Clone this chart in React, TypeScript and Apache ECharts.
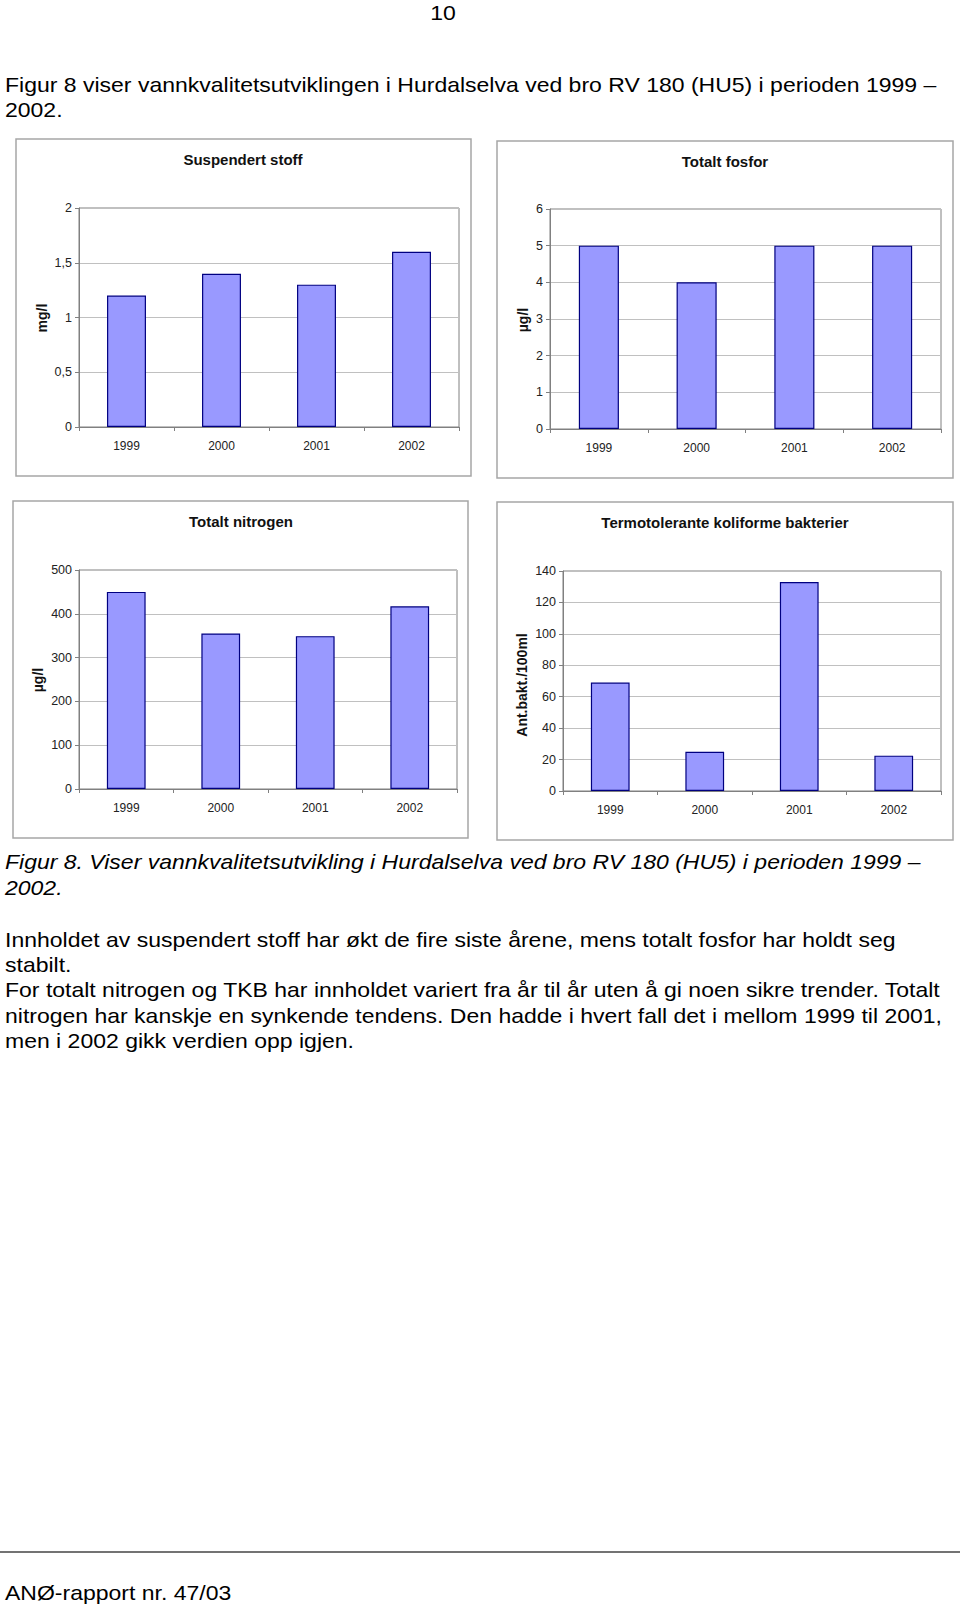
import React, { useEffect, useRef } from 'react';
import * as echarts from 'echarts';

// ---------- data ----------
const YEARS = ['1999', '2000', '2001', '2002'];
const SUSPENDERT_STOFF = [1.2, 1.4, 1.3, 1.6];
const TOTALT_FOSFOR = [5, 4, 5, 5];
const TOTALT_NITROGEN = [450, 355, 349, 417];
const TKB = [69, 25, 133, 22.5];

const CHART_TITLES = ['Suspendert stoff', 'Totalt fosfor', 'Totalt nitrogen', 'Termotolerante koliforme bakterier'];
const AXIS_NAMES = ['mg/l', 'µg/l', 'µg/l', 'Ant.bakt./100ml'];
const Y_MAX = [2, 6, 500, 140];
const Y_STEP = [0.5, 1, 100, 20];
const SERIES_VALUES = [SUSPENDERT_STOFF, TOTALT_FOSFOR, TOTALT_NITROGEN, TKB];

const PAGE_NUMBER = '10';
const INTRO_LINES = [
  'Figur 8 viser vannkvalitetsutviklingen i Hurdalselva ved bro RV 180 (HU5) i perioden 1999 –',
  '2002.',
];
const CAPTION_LINES = [
  'Figur 8. Viser vannkvalitetsutvikling i Hurdalselva ved bro RV 180 (HU5) i perioden 1999 –',
  '2002.',
];
const BODY_LINES = [
  'Innholdet av suspendert stoff har økt de fire siste årene, mens totalt fosfor har holdt seg',
  'stabilt.',
  'For totalt nitrogen og TKB har innholdet variert fra år til år uten å gi noen sikre trender. Totalt',
  'nitrogen har kanskje en synkende tendens. Den hadde i hvert fall det i mellom 1999 til 2001,',
  'men i 2002 gikk verdien opp igjen.',
];
const FOOTER = 'ANØ-rapport nr. 47/03';

// ---------- layout ----------
const FONT = '"Liberation Sans", Arial, Helvetica, sans-serif';
const PANELS = [
  { box: [16, 139, 455, 337], grid: [79, 208, 380, 219], title: [243, 159], axisName: [42, 318] },
  { box: [497, 141, 456, 337], grid: [550, 209, 391, 220], title: [725, 161], axisName: [523, 320] },
  { box: [13, 501, 455, 337], grid: [79, 570, 378, 219], title: [241, 521], axisName: [38, 680] },
  { box: [497, 502, 456, 338], grid: [563, 571, 378, 220], title: [725, 522], axisName: [522, 685] },
];
const INTRO_Y = [85, 110];
const CAPTION_Y = [862, 888];
const BODY_Y = [940, 965, 990, 1016, 1041];

function pageText(text: string, x: number, y: number, opts: any = {}) {
  return {
    type: 'text',
    x,
    y,
    scaleX: 1.15,
    silent: true,
    style: {
      text,
      fontSize: 20,
      fontFamily: FONT,
      fontStyle: opts.italic ? 'italic' : 'normal',
      fill: '#000',
      align: opts.align || 'left',
      textAlign: opts.align || 'left',
      verticalAlign: 'middle',
      textVerticalAlign: 'middle',
    },
  };
}

function buildOption() {
  const grid = PANELS.map((p) => ({
    left: p.grid[0],
    top: p.grid[1],
    width: p.grid[2],
    height: p.grid[3],
    show: true,
    borderColor: '#808080',
    borderWidth: 1,
    backgroundColor: 'transparent',
  }));

  const xAxis = PANELS.map((_, i) => ({
    type: 'category',
    gridIndex: i,
    data: YEARS,
    axisLine: { show: true, lineStyle: { color: '#808080', width: 1 } },
    axisTick: { show: true, length: 4, lineStyle: { color: '#808080' } },
    axisLabel: { fontSize: 12, color: '#222', margin: 13, fontFamily: FONT },
    splitLine: { show: false },
  }));

  const yAxis = PANELS.map((_, i) => ({
    type: 'value',
    gridIndex: i,
    min: 0,
    max: Y_MAX[i],
    interval: Y_STEP[i],
    axisLine: { show: true, lineStyle: { color: '#808080', width: 1 } },
    axisTick: { show: true, length: 4, lineStyle: { color: '#808080' } },
    axisLabel: {
      fontSize: 12.5,
      color: '#222',
      margin: 7,
      fontFamily: FONT,
      formatter: (v: number) => String(v).replace('.', ','),
    },
    splitLine: { show: true, lineStyle: { color: '#c0c0c0', width: 1 } },
  }));

  const series = SERIES_VALUES.map((vals, i) => ({
    type: 'bar',
    xAxisIndex: i,
    yAxisIndex: i,
    data: vals,
    barWidth: '41%',
    itemStyle: { color: '#9999ff', borderColor: '#000080', borderWidth: 1.2 },
    emphasis: { disabled: true },
  }));

  const graphic: any[] = [];
  PANELS.forEach((p, i) => {
    graphic.push({
      type: 'rect',
      silent: true,
      shape: { x: p.box[0], y: p.box[1], width: p.box[2], height: p.box[3] },
      style: { fill: 'none', stroke: '#a6a6a6', lineWidth: 1.5 },
    });
    graphic.push({
      type: 'text',
      x: p.title[0],
      y: p.title[1],
      silent: true,
      style: {
        text: CHART_TITLES[i],
        fontSize: 15,
        fontWeight: 'bold',
        fontFamily: FONT,
        fill: '#111',
        align: 'center',
        textAlign: 'center',
        verticalAlign: 'middle',
        textVerticalAlign: 'middle',
      },
    });
    graphic.push({
      type: 'text',
      x: p.axisName[0],
      y: p.axisName[1],
      rotation: Math.PI / 2,
      silent: true,
      style: {
        text: AXIS_NAMES[i],
        fontSize: 14,
        fontWeight: 'bold',
        fontFamily: FONT,
        fill: '#111',
        align: 'center',
        textAlign: 'center',
        verticalAlign: 'middle',
        textVerticalAlign: 'middle',
      },
    });
  });

  graphic.push(pageText(PAGE_NUMBER, 443, 13, { align: 'center' }));
  INTRO_LINES.forEach((t, i) => graphic.push(pageText(t, 5, INTRO_Y[i])));
  CAPTION_LINES.forEach((t, i) => graphic.push(pageText(t, 5, CAPTION_Y[i], { italic: true })));
  BODY_LINES.forEach((t, i) => graphic.push(pageText(t, 5, BODY_Y[i])));
  graphic.push({
    type: 'line',
    silent: true,
    shape: { x1: 0, y1: 1552, x2: 960, y2: 1552 },
    style: { stroke: '#444', lineWidth: 1.5 },
  });
  graphic.push(pageText(FOOTER, 5, 1593));

  return {
    animation: false,
    backgroundColor: '#fff',
    grid,
    xAxis,
    yAxis,
    series,
    graphic,
  };
}

export default function App() {
  const ref = useRef<HTMLDivElement>(null);
  useEffect(() => {
    if (!ref.current) return;
    const chart = echarts.init(ref.current, undefined, { renderer: 'svg' });
    chart.setOption(buildOption() as any);
    return () => chart.dispose();
  }, []);
  return (
    <div
      ref={ref}
      style={{ position: 'absolute', left: 0, top: 0, width: 960, height: 1607, background: '#fff' }}
    />
  );
}
